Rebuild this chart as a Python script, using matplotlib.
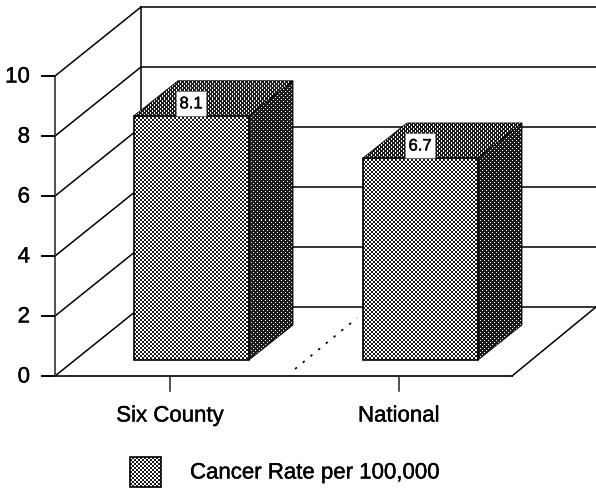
import numpy as np
import matplotlib
matplotlib.use("Agg")
import matplotlib.pyplot as plt
import matplotlib.patheffects as pe
from matplotlib.patches import Polygon, Rectangle

categories = ["Six County", "National"]
values = [8.1, 6.7]
value_labels = ["8.1", "6.7"]
y_ticks = [0, 2, 4, 6, 8, 10]
legend_label = "Cancer Rate per 100,000"

plt.rcParams["font.family"] = ["Liberation Sans", "DejaVu Sans"]
W, H = 596, 490
fig = plt.figure(figsize=(W / 100, H / 100), dpi=100, facecolor="white")
ax = fig.add_axes([0, 0, 1, 1])
ax.set_xlim(0, W)
ax.set_ylim(H, 0)
ax.axis("off")

# chart geometry (pixels)
X0, Y0, UNIT = 55, 376, 30.0
WALL_DX, WALL_DY = 86, -69
FLOOR_R = 512
BAR_W, BAR_BASE = 115, 360
BAR_DX, BAR_DY = 44, -35
bar_lefts = [134, 363]
tick_xs = [170, 399]
LW = 1.1
BOLD = [pe.withStroke(linewidth=0.3, foreground="k")]


def vy(v):
    return Y0 - v * UNIT


def label(x, y, s, size=16, ha="center", z=8):
    ax.text(x, y, s, ha=ha, va="center", fontsize=size, color="k", zorder=z, path_effects=BOLD)


# left wall, back wall and floor
for t in y_ticks:
    y = vy(t)
    ax.plot([X0 - 13, X0], [y, y], color="k", lw=LW + 0.3, zorder=2)
    ax.plot([X0, X0 + WALL_DX], [y, y + WALL_DY], color="k", lw=LW, zorder=2)
    ax.plot([X0 + WALL_DX, W], [y + WALL_DY, y + WALL_DY], color="k", lw=LW, zorder=2)
    label(30, y + 1, str(t), ha="right")
ax.plot([X0, X0], [vy(0), vy(10)], color="#222222", lw=LW, zorder=2)
ax.plot([X0 + WALL_DX] * 2, [vy(0) + WALL_DY, vy(10) + WALL_DY], color="k", lw=LW, zorder=2)
ax.plot([X0, FLOOR_R], [Y0, Y0], color="#222222", lw=LW + 0.3, zorder=2)
ax.plot([FLOOR_R, W], [Y0, Y0 + WALL_DY], color="k", lw=LW, zorder=2)
ax.plot([295, 357], [369, 318], color="k", lw=1.2, ls=(0, (1.5, 4.5)), zorder=2)

TILES = {
    "front": np.array([[1, 1, 0, 0], [1, 1, 0, 0], [0, 0, 1, 1], [0, 0, 1, 1]]),
    "top": np.array([[1, 0, 0, 0], [1, 0, 0, 0], [0, 0, 1, 0], [0, 0, 1, 0]]),
    "side": np.array([[1, 0, 0, 0], [0, 0, 0, 0], [0, 0, 1, 0], [0, 0, 0, 0]]),
}


def textured(pts, kind, z, lw=1.2):
    xs = [p[0] for p in pts]
    ys = [p[1] for p in pts]
    x0, x1 = int(np.floor(min(xs))), int(np.ceil(max(xs)))
    y0, y1 = int(np.floor(min(ys))), int(np.ceil(max(ys)))
    t = TILES[kind]
    img = np.tile(t, ((y1 - y0) // 4 + 1, (x1 - x0) // 4 + 1))[:y1 - y0, :x1 - x0]
    poly = Polygon(pts, closed=True, fc="none", ec="k", lw=lw, zorder=z + 0.1)
    ax.add_patch(poly)
    im = ax.imshow(img, cmap="gray", vmin=-0.12, vmax=1.0, extent=(x0, x1, y1, y0),
                   interpolation="nearest", zorder=z, aspect="auto")
    im.set_clip_path(poly)


for i, (cat, v, lab) in enumerate(zip(categories, values, value_labels)):
    l = bar_lefts[i]
    r = l + BAR_W
    top = BAR_BASE - v * UNIT * 1.005
    z = 3 + i
    textured([(r, BAR_BASE), (r + BAR_DX, BAR_BASE + BAR_DY),
              (r + BAR_DX, top + BAR_DY), (r, top)], "side", z, lw=0.6)
    textured([(l, top), (l + BAR_DX, top + BAR_DY),
              (r + BAR_DX, top + BAR_DY), (r, top)], "top", z, lw=0.6)
    textured([(l, top), (r, top), (r, BAR_BASE), (l, BAR_BASE)], "front", z)
    ax.add_patch(Rectangle((l + 42, top - 25), 30, 25, fc="white", ec="#555555", lw=0.4, zorder=z + 0.5))
    label(l + 57, top - 12, lab, size=12, z=z + 0.6)
    ax.plot([tick_xs[i]] * 2, [Y0, Y0 + 15], color="#222222", lw=LW, zorder=2)
    label(tick_xs[i], 416, cat)

# legend
textured([(130, 457), (161, 457), (161, 487), (130, 487)], "front", 6)
label(190, 473, legend_label, ha="left")

ax.set_xlim(0, W)
ax.set_ylim(H, 0)
fig.savefig("out.png", dpi=100, facecolor="white")
